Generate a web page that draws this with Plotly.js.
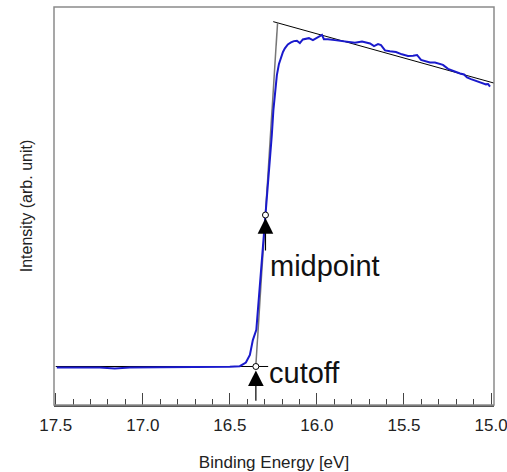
<!DOCTYPE html>
<html>
<head>
<meta charset="utf-8">
<script src="https://cdn.plot.ly/plotly-3.0.1.min.js"></script>
<style>html,body{margin:0;padding:0;background:#fff;}#chart{width:507px;height:472px;}</style>
</head>
<body>
<div id="chart"></div>
<script>
// Measured spectrum (binding energy in eV, intensity in arb. units)
const energy = [17.494,17.362,17.247,17.161,17.075,16.902,16.672,16.500,16.443,16.431,16.408,16.385,16.368,16.348,16.339,16.328,16.316,16.305,16.293,16.282,16.270,16.259,16.250,16.241,16.230,16.218,16.207,16.195,16.184,16.167,16.149,16.132,16.115,16.098,16.081,16.063,16.046,16.023,16.000,15.983,15.971,15.960,15.937,15.897,15.862,15.822,15.782,15.741,15.718,15.695,15.672,15.649,15.632,15.609,15.581,15.546,15.512,15.477,15.448,15.425,15.402,15.374,15.351,15.322,15.293,15.276,15.247,15.224,15.207,15.178,15.155,15.138,15.115,15.092,15.075,15.046,15.029,15.017,15.006];
const intensity = [-0.003,-0.003,-0.003,-0.006,-0.003,-0.002,-0.002,-0.001,0.001,0.005,0.012,0.035,0.080,0.111,0.171,0.232,0.308,0.383,0.459,0.535,0.611,0.702,0.777,0.838,0.883,0.917,0.938,0.953,0.964,0.976,0.982,0.986,0.987,0.980,0.991,0.994,0.995,0.989,0.995,1.000,1.005,0.992,0.992,0.989,0.986,0.984,0.981,0.985,0.983,0.979,0.971,0.977,0.974,0.958,0.955,0.953,0.946,0.941,0.942,0.944,0.929,0.924,0.921,0.921,0.917,0.914,0.902,0.897,0.893,0.888,0.885,0.876,0.871,0.867,0.863,0.858,0.855,0.856,0.848];
// Linear fits
const topFitX = [16.251, 14.977];
const topFitY = [1.045, 0.858];
const edgeFitX = [16.226, 16.351];
const edgeFitY = [1.042, 0.0];
const baseFitX = [17.5, 16.28];
const baseFitY = [0.0, 0.0];
// Marked points
const pointNames = ["midpoint", "cutoff"];
const pointX = [16.2955, 16.3506];
const pointY = [0.459, 0.0];
// Tick labels
const tickVals = [17.5, 17.0, 16.5, 16.0, 15.5, 15.0];
const tickText = ['17.5', '17.0', '16.5', '16.0', '15.5', '15.0'];

const font = "Liberation Sans, Arial, sans-serif";

const traces = [
  {x: baseFitX, y: baseFitY, mode: 'lines', line: {color: '#000', width: 1}, hoverinfo: 'skip'},
  {x: topFitX, y: topFitY, mode: 'lines', line: {color: '#000', width: 1}, hoverinfo: 'skip'},
  {x: edgeFitX, y: edgeFitY, mode: 'lines', line: {color: '#777', width: 1.5}, hoverinfo: 'skip'},
  {x: energy, y: intensity, mode: 'lines', line: {color: '#1a1acc', width: 2}},
  {x: pointX, y: pointY, mode: 'markers', marker: {symbol: 'circle', size: 6, color: '#fff', line: {color: '#000', width: 1}}, cliponaxis: false}
];

const annotations = [
  {x: pointX[0], y: pointY[0], xref: 'x', yref: 'y', axref: 'x', ayref: 'y', ax: pointX[0], ay: 0.347,
   showarrow: true, arrowhead: 2, arrowsize: 2.6, arrowwidth: 1.2, arrowcolor: '#000', standoff: 3, text: ''},
  {x: pointX[1], y: pointY[1], xref: 'x', yref: 'y', axref: 'x', ayref: 'y', ax: pointX[1], ay: -0.108,
   showarrow: true, arrowhead: 2, arrowsize: 2.6, arrowwidth: 1.2, arrowcolor: '#000', standoff: 4, text: ''},
  {x: 16.282, y: 0.305, xref: 'x', yref: 'y', xanchor: 'left', yanchor: 'middle', showarrow: false,
   text: pointNames[0], font: {family: font, size: 29, color: '#111'}},
  {x: 16.289, y: -0.02, xref: 'x', yref: 'y', xanchor: 'left', yanchor: 'middle', showarrow: false,
   text: pointNames[1], font: {family: font, size: 29, color: '#111'}}
];

const layout = {
  width: 507, height: 472,
  margin: {l: 54, r: 13, t: 7, b: 67},
  paper_bgcolor: '#fff', plot_bgcolor: '#fff',
  showlegend: false,
  font: {family: font, color: '#222'},
  xaxis: {
    range: [17.51, 14.983], autorange: false,
    tickvals: tickVals, ticktext: tickText,
    ticks: 'inside', ticklen: 12, tickwidth: 1, tickcolor: '#444',
    minor: {dtick: 0.1, tick0: 15.0, ticks: 'inside', ticklen: 6, tickwidth: 1, tickcolor: '#444', showgrid: false},
    tickfont: {family: font, size: 17, color: '#222'},
    ticklabelstandoff: 4, ticklabeloverflow: 'allow',
    showgrid: false, zeroline: false,
    showline: true, linecolor: '#555', linewidth: 2,
    title: {text: 'Binding Energy [eV]', font: {family: font, size: 17, color: '#222'}, standoff: 22}
  },
  yaxis: {
    range: [-0.1167, 1.0894], autorange: false,
    showticklabels: false, ticks: '', showgrid: false, zeroline: false,
    showline: false,
    title: {text: 'Intensity (arb. unit)', font: {family: font, size: 16, color: '#222'}, standoff: 16}
  },
  shapes: [
    {type: 'rect', xref: 'paper', yref: 'paper', x0: 0, x1: 1, y0: 0, y1: 1, line: {color: '#8a8a8a', width: 1.5}, fillcolor: 'rgba(0,0,0,0)', layer: 'above'}
  ],
  annotations: annotations
};

Plotly.newPlot('chart', traces, layout, {displayModeBar: false, staticPlot: true});
</script>
</body>
</html>
